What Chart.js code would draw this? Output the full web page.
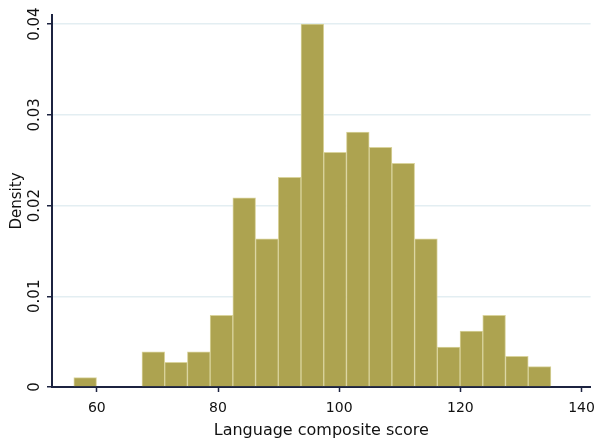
<!DOCTYPE html>
<html>
<head>
<meta charset="utf-8">
<script src="https://cdn.jsdelivr.net/npm/chart.js@4"></script>
<style>
  html, body { margin: 0; padding: 0; background: #fff; }
  #wrap { width: 603px; height: 439px; }
</style>
</head>
<body>
<div id="wrap"><canvas id="chart"></canvas></div>
<script>
// histogram bins: left edges and density
const binWidth = 3.75;
const binLefts = [56.2, 59.95, 63.7, 67.45, 71.2, 74.95, 78.7, 82.45, 86.2, 89.95, 93.7,
  97.45, 101.2, 104.95, 108.7, 112.45, 116.2, 119.95, 123.7, 127.45, 131.2];
const densities = [0.00103, 0, 0, 0.00389, 0.00272, 0.00389, 0.0079, 0.02086, 0.01634, 0.0231, 0.04,
  0.02586, 0.0281, 0.02641, 0.02465, 0.01634, 0.00441, 0.00617, 0.0079, 0.00338, 0.00224];
const xTicks = [60, 80, 100, 120, 140];
const yTicks = [0, 0.01, 0.02, 0.03, 0.04];

const axisColor = '#1c2340';
const textColor = '#111111';
const font = 'DejaVu Sans';

const points = binLefts.map((left, i) => ({ x: left + binWidth / 2, y: densities[i] }));

new Chart(document.getElementById('chart'), {
  type: 'bar',
  data: {
    datasets: [{
      data: points,
      backgroundColor: '#ada350',
      borderColor: '#d9d39c',
      borderWidth: 1,
      barPercentage: 1,
      categoryPercentage: 1,
    }]
  },
  options: {
    responsive: true,
    maintainAspectRatio: false,
    animation: false,
    layout: { padding: { top: 15, right: 7, left: 0, bottom: 0 } },
    plugins: { legend: { display: false }, tooltip: { enabled: false } },
    scales: {
      x: {
        type: 'linear',
        offset: false,
        min: 52.6,
        max: 141.5,
        afterBuildTicks: s => { s.ticks = xTicks.map(v => ({ value: v })); },
        afterFit: s => { s.height = 52; },
        grid: {
          display: true,
          offset: false,
          drawOnChartArea: false,
          drawTicks: true,
          tickLength: 5,
          tickColor: axisColor,
          tickWidth: 1.5,
        },
        border: { color: axisColor, width: 2 },
        ticks: {
          autoSkip: false,
          maxRotation: 0,
          padding: 8,
          color: textColor,
          font: { family: font, size: 14 },
        },
        title: {
          display: true,
          text: 'Language composite score',
          color: textColor,
          font: { family: font, size: 16 },
          padding: { top: 0, bottom: -1 },
        },
      },
      y: {
        min: 0,
        max: 0.041,
        afterBuildTicks: s => { s.ticks = yTicks.map(v => ({ value: v })); },
        afterFit: s => { s.width = 52; },
        grid: {
          color: ctx => (ctx.tick && ctx.tick.value === 0) ? 'rgba(0,0,0,0)' : '#e3eef2',
          lineWidth: 1.5,
          tickLength: 5,
          tickColor: axisColor,
          tickWidth: 1.5,
        },
        border: { color: axisColor, width: 2 },
        ticks: {
          minRotation: 90,
          maxRotation: 90,
          crossAlign: 'center',
          padding: -5,
          color: textColor,
          font: { family: font, size: 15 },
          callback: v => v === 0 ? '0' : v.toFixed(2),
        },
        title: {
          display: true,
          text: 'Density',
          color: textColor,
          font: { family: font, size: 15 },
          padding: { top: 8, bottom: 0 },
        },
      },
    },
  },
});
</script>
</body>
</html>
